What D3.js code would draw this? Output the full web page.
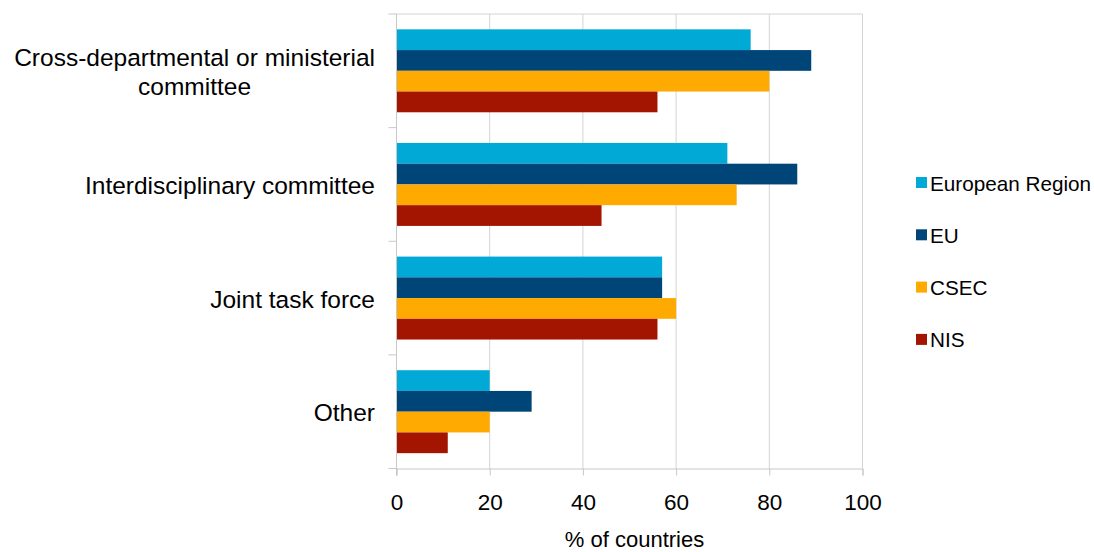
<!DOCTYPE html>
<html><head><meta charset="utf-8">
<script src="https://cdn.jsdelivr.net/npm/d3@7"></script>
<style>body{margin:0;background:#fff;} text{font-family:"Liberation Sans",Arial,sans-serif;fill:#000;}</style>
</head><body><svg id="c" width="1094" height="552"></svg>
<script>
const categories = ["Cross-departmental or ministerial committee","Interdisciplinary committee","Joint task force","Other"];
const categoryLines = [["Cross-departmental or ministerial","committee"],["Interdisciplinary committee"],["Joint task force"],["Other"]];
const seriesNames = ["European Region","EU","CSEC","NIS"];
const europeanRegion = [76,71,57,20];
const eu = [89,86,57,29];
const csec = [80,73,60,20];
const nis = [56,44,56,11];
const xTicks = [0,20,40,60,80,100];
const colors = ["#00a9d6","#004578","#ffaa00","#a31500"];
const seriesValues = [europeanRegion, eu, csec, nis];

const svg = d3.select("#c");
const L = 396.5, R = 862.5, T = 14, B = 468.5;
const x = d3.scaleLinear().domain([0,100]).range([L,R]);
const y = d3.scaleBand().domain(categories).range([T,B]).paddingInner(0.27).paddingOuter(0.135);
const ySub = d3.scaleBand().domain(seriesNames).range([0,y.bandwidth()]);

// grid
svg.append("g").selectAll("line").data(xTicks.slice(1)).join("line")
  .attr("x1",d=>x(d)).attr("x2",d=>x(d)).attr("y1",T).attr("y2",B)
  .attr("stroke","#d4d4d4").attr("stroke-width",1);
svg.append("line").attr("x1",L).attr("x2",R).attr("y1",T).attr("y2",T).attr("stroke","#d4d4d4");

// bars
categories.forEach((c,ci)=>{
  seriesNames.forEach((s,si)=>{
    svg.append("rect").attr("x",x(0)).attr("y",y(c)+ySub(s))
      .attr("width",x(seriesValues[si][ci])-x(0)).attr("height",ySub.bandwidth())
      .attr("fill",colors[si]);
  });
});

// axes
const xa = svg.append("g").attr("transform",`translate(0,${B})`)
  .call(d3.axisBottom(x).tickValues(xTicks).tickSize(7).tickPadding(19));
xa.select(".domain").attr("stroke","#c8c8c8");
xa.selectAll(".tick line").attr("stroke","#c8c8c8");
xa.selectAll("text").attr("font-size",22.5).attr("font-family","Liberation Sans, Arial, sans-serif").attr("fill","#000");

svg.append("line").attr("x1",L).attr("x2",L).attr("y1",T).attr("y2",B+7).attr("stroke","#c8c8c8");
const edges = d3.range(5).map(i=>T+(B-T)*i/4);
svg.append("g").selectAll("line").data(edges).join("line")
  .attr("x1",L-8).attr("x2",L).attr("y1",d=>d).attr("y2",d=>d).attr("stroke","#c8c8c8");

// category labels
categories.forEach((c,ci)=>{
  const lines = categoryLines[ci];
  const cy = y(c)+y.bandwidth()/2;
  const t = svg.append("text").attr("font-size",24.5).attr("text-anchor","middle");
  const lh = 29.5;
  lines.forEach((ln,li)=>{
    t.append("tspan").attr("x",0).attr("y",cy + 9.5 + (li-(lines.length-1)/2)*lh).text(ln);
  });
  const w = d3.max(t.selectAll("tspan").nodes(),n=>n.getComputedTextLength());
  t.selectAll("tspan").attr("x",375 - w/2);
});

// axis title
svg.append("text").attr("x",(L+R)/2 + 5).attr("y",547.3).attr("text-anchor","middle")
  .attr("font-size",22).text("% of countries");

// legend
const lg = svg.append("g");
seriesNames.forEach((s,i)=>{
  const cy = 183 + i*52.3;
  lg.append("rect").attr("x",916).attr("y",cy-6).attr("width",11).attr("height",11).attr("fill",colors[i]);
  lg.append("text").attr("x",930).attr("y",cy+7.5).attr("font-size",20.7).text(s);
});
</script></body></html>
